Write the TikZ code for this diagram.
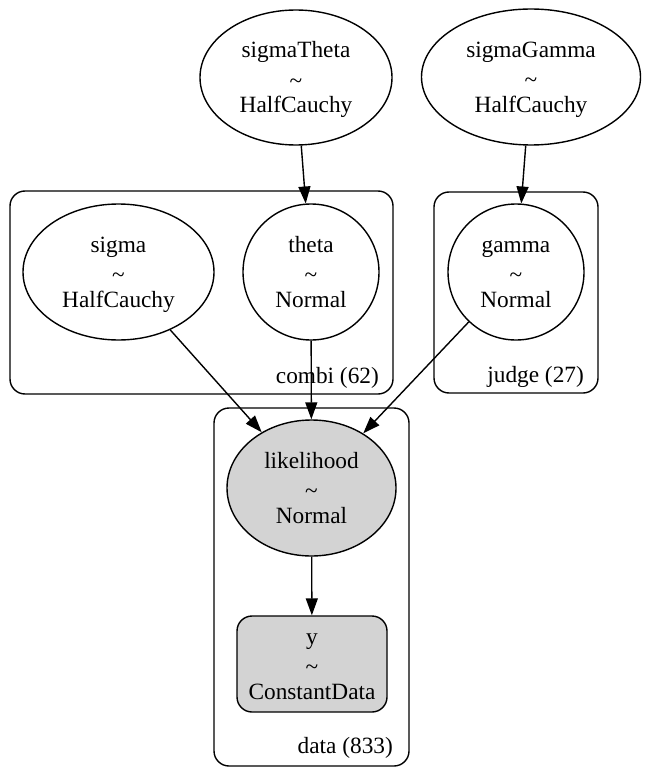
\documentclass[tikz,border=0pt]{standalone}
\usepackage{fontspec}
\setmainfont{Liberation Serif}
\usetikzlibrary{shapes.geometric,arrows.meta}
\definecolor{obsgray}{HTML}{D3D3D3}
\newcommand{\dist}{\raisebox{-3pt}{\textasciitilde}}
\begin{document}
\begin{tikzpicture}[x=1pt,y=-1pt,
  every node/.style={font=\fontsize{23.3}{27.7}\selectfont, align=center, inner sep=0pt},
  rvtext/.style={text height=76pt, text depth=5pt},
  rv/.style={draw, line width=1.4pt, ellipse, rvtext},
  rvc/.style={draw, line width=1.4pt, circle, minimum size=136pt, rvtext},
  platebox/.style={draw, line width=1.4pt, rounded corners=15pt},
  platelabel/.style={anchor=base east},
  edge/.style={line width=1.4pt, -{Triangle[length=17pt,width=12pt]}}
]
\useasboundingbox (0,0) rectangle (653,778);

% plates
\draw[platebox] (10,191) rectangle (393,394);
\draw[platebox] (434,192) rectangle (598,393);
\draw[platebox] (214,408) rectangle (409,766);
\node[platelabel] (lcombi) at (379,383) {combi (62)};
\node[platelabel] (ljudge) at (584,382) {judge (27)};
\node[platelabel] (ldata) at (393,753) {data (833)};

% nodes
\node[rv, minimum width=192pt, minimum height=135pt] (sigmaTheta) at (296,77.5)
  {sigmaTheta\\\dist\\HalfCauchy};
\node[rv, minimum width=219pt, minimum height=136pt] (sigmaGamma) at (531,77)
  {sigmaGamma\\\dist\\HalfCauchy};
\node[rv, minimum width=191pt, minimum height=136pt] (sigma) at (118.5,272)
  {sigma\\\dist\\HalfCauchy};
\node[rvc] (theta) at (311,272) {theta\\\dist\\Normal};
\node[rvc] (gamma) at (516,272) {gamma\\\dist\\Normal};
\node[rv, fill=obsgray, minimum width=169pt, minimum height=136pt] (likelihood) at (311.5,488)
  {likelihood\\\dist\\Normal};
\node[draw, line width=1.4pt, rounded corners=15pt, fill=obsgray, minimum width=150pt, minimum height=96pt, rvtext] (y) at (312,664)
  {y\\\dist\\ConstantData};

% edges
\draw[edge] (sigmaTheta) -- (theta);
\draw[edge] (sigmaGamma) -- (gamma);
\draw[edge] (sigma) -- (likelihood);
\draw[edge] (theta) -- (likelihood);
\draw[edge] (gamma) -- (likelihood);
\draw[edge] (likelihood) -- (y);
\end{tikzpicture}
\end{document}
